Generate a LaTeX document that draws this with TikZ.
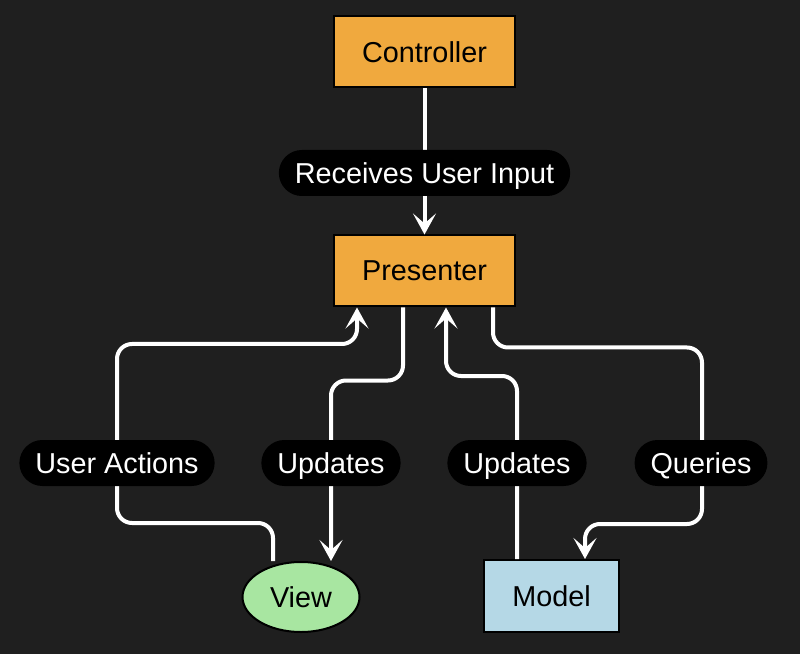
\documentclass[tikz,border=0pt]{standalone}
\usepackage{fontspec}
\setmainfont{Liberation Sans}
\usetikzlibrary{positioning,shapes.geometric,arrows.meta}
\definecolor{bg}{HTML}{1F1F1F}
\definecolor{porange}{HTML}{F0A93E}
\definecolor{vgreen}{HTML}{A8E6A1}
\definecolor{mblue}{HTML}{B5D8E6}

\begin{document}
\begin{tikzpicture}[x=1pt,y=1pt,font=\fontsize{28.8}{34}\selectfont,
  box/.style={draw=black,line width=2pt,fill=porange,minimum width=181pt,minimum height=71pt,inner sep=0pt},
  pill/.style={fill=black,text=white,rounded corners=23pt,minimum height=46pt,inner xsep=16pt,inner ysep=0pt,text height=20.6pt,text depth=0pt},
  flow/.style={draw=white,line width=4pt,rounded corners=15pt,-{Stealth[length=21pt,width=23pt,inset=10pt]}}]
  \fill[bg] (0,0) rectangle (800,654);
  \node[box] (ctrl) at (424.5,602) {Controller};
  \node[box,below=146pt of ctrl] (pres) {Presenter};
  \node[ellipse,draw=black,line width=2pt,fill=vgreen,minimum width=117pt,minimum height=70pt,inner sep=0pt] (view) at (301,57) {View};
  \node[box,fill=mblue,minimum width=135pt,minimum height=72pt] (model) at (551.5,58) {Model};
  \draw[flow] (ctrl) -- (pres);
  \draw[flow] ([xshift=-28pt]view.north) -- ++(0,38) -| (117,310) -| ([xshift=-67.5pt]pres.south);
  \draw[flow] ([xshift=-21.5pt]pres.south) -- ++(0,-73) -| ([xshift=30pt]view.north);
  \draw[flow] ([xshift=-34.5pt]model.north) -- ++(0,183) -| ([xshift=21.5pt]pres.south);
  \draw[flow] ([xshift=68.5pt]pres.south) -- ++(0,-40) -| (702,130) -| ([xshift=33.5pt]model.north);
  \node[pill] (lblinput) at (424.5,481) {Receives User Input};
  \node[pill] (lbluser) at (117,191) {User Actions};
  \node[pill] (lblupdv) at (331,191) {Updates};
  \node[pill] (lblupdm) at (517,191) {Updates};
  \node[pill] (lblquery) at (701,191) {Queries};
\end{tikzpicture}
\end{document}
